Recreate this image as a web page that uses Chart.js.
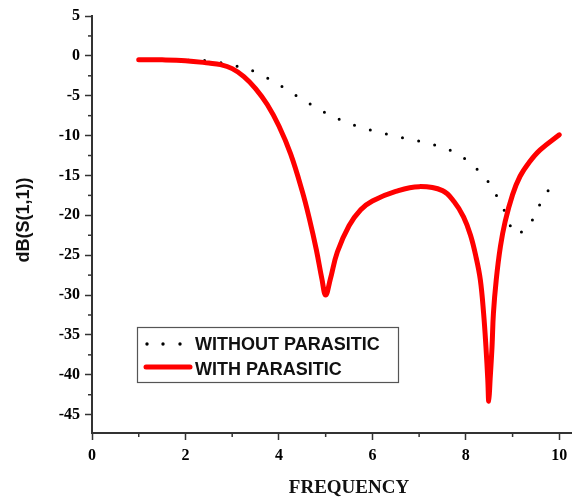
<!DOCTYPE html>
<html>
<head>
<meta charset="utf-8">
<script src="https://cdn.jsdelivr.net/npm/chart.js@4/dist/chart.umd.min.js"></script>
<style>
  body { margin: 0; background: #fff; }
  #wrap { width: 577px; height: 497px; }
</style>
</head>
<body>
<div id="wrap"><canvas id="s11Chart" width="577" height="497"></canvas></div>
<script>
// Courbe sans parasite (pointillés)
const freqWithout = [1.0, 1.5, 2.0, 2.46, 2.8, 3.17, 3.53, 3.88, 4.24, 4.6, 4.95, 5.31, 5.67, 6.02, 6.38, 6.74, 7.09, 7.45, 7.82, 8.16, 8.48, 8.69, 8.89, 9.05, 9.34, 9.53, 9.74, 9.82];
const s11Without = [-0.5, -0.5, -0.55, -0.6, -0.9, -1.4, -2.1, -3.2, -4.5, -5.8, -7.0, -8.0, -8.8, -9.4, -9.9, -10.4, -10.8, -11.4, -12.3, -13.8, -15.8, -17.9, -20.2, -22.3, -21.3, -19.2, -17.1, -16.4];

// Courbe avec parasite (rouge)
const freqWith = [1.0, 1.5, 2.0, 2.5, 2.75, 3.0, 3.25, 3.5, 3.75, 4.0, 4.25, 4.5, 4.65, 4.8, 4.92, 5.0, 5.1, 5.25, 5.5, 5.75, 6.0, 6.5, 7.0, 7.5, 7.75, 7.95, 8.1, 8.22, 8.31, 8.38, 8.43, 8.47, 8.49, 8.52, 8.56, 8.59, 8.65, 8.74, 8.84, 9.0, 9.16, 9.35, 9.59, 10.0];
const s11With = [-0.5, -0.5, -0.6, -0.9, -1.1, -1.6, -2.6, -4.1, -6.1, -8.8, -12.3, -17.0, -20.4, -24.3, -28.0, -30.0, -28.0, -24.6, -21.3, -19.3, -18.2, -17.0, -16.4, -16.9, -18.3, -20.2, -22.5, -25.3, -28.1, -32.3, -36.5, -40.7, -43.3, -40.5, -36.5, -32.3, -28.1, -23.9, -20.8, -17.4, -15.1, -13.4, -11.8, -9.9];

const xTicks = [0, 2, 4, 6, 8, 10];
const yTicks = [5, 0, -5, -10, -15, -20, -25, -30, -35, -40, -45];
const legendLabels = ['WITHOUT PARASITIC', 'WITH PARASITIC'];
const xTitle = 'FREQUENCY';
const yTitle = 'dB(S(1,1))';

const AXIS = '#333';
const tickFont = { family: '"Liberation Serif", "Times New Roman", serif', size: 16, weight: 'bold' };

function toPoints(xs, ys) {
    return xs.map((x, i) => ({ x: x, y: ys[i] }));
}

// Petites graduations, titres d'axes et légende encadrée
const decorPlugin = {
    id: 'decor',
    afterDraw(chart) {
        const ctx = chart.ctx;
        const xs = chart.scales.x;
        const ys = chart.scales.y;
        const area = chart.chartArea;
        ctx.save();
        ctx.strokeStyle = AXIS;
        ctx.lineWidth = 1.5;
        for (let v = 1; v <= 9; v += 2) {
            const px = xs.getPixelForValue(v);
            ctx.beginPath();
            ctx.moveTo(px, area.bottom);
            ctx.lineTo(px, area.bottom + 4);
            ctx.stroke();
        }
        for (let v = 2.5; v >= -42.5; v -= 5) {
            const py = ys.getPixelForValue(v);
            ctx.beginPath();
            ctx.moveTo(area.left, py);
            ctx.lineTo(area.left - 4, py);
            ctx.stroke();
        }

        // titres
        ctx.fillStyle = '#111';
        ctx.font = 'bold 19px "Liberation Serif", "Times New Roman", serif';
        ctx.textAlign = 'center';
        ctx.textBaseline = 'alphabetic';
        ctx.fillText(xTitle, 349, 493);

        ctx.save();
        ctx.translate(29, 220);
        ctx.rotate(-Math.PI / 2);
        ctx.font = 'bold 18px "Liberation Sans", Arial, sans-serif';
        ctx.fillText(yTitle, 0, 0);
        ctx.restore();

        // légende
        ctx.strokeStyle = '#555';
        ctx.lineWidth = 1.2;
        ctx.strokeRect(137.5, 327.5, 261, 55);
        ctx.fillStyle = '#000';
        [147, 163, 180].forEach(dx => {
            ctx.beginPath();
            ctx.arc(dx, 344, 1.7, 0, Math.PI * 2);
            ctx.fill();
        });
        ctx.strokeStyle = '#ff0000';
        ctx.lineWidth = 5;
        ctx.lineCap = 'round';
        ctx.beginPath();
        ctx.moveTo(146, 367);
        ctx.lineTo(190, 367);
        ctx.stroke();
        ctx.fillStyle = '#111';
        ctx.textAlign = 'left';
        ctx.font = 'bold 18px "Liberation Sans", Arial, sans-serif';
        ctx.fillText(legendLabels[0], 195, 350);
        ctx.fillText(legendLabels[1], 195, 375);
        ctx.restore();
    }
};

new Chart(document.getElementById('s11Chart'), {
    type: 'line',
    data: {
        datasets: [
            {
                label: legendLabels[0],
                data: toPoints(freqWithout, s11Without),
                borderColor: '#000',
                borderWidth: 3,
                borderDash: [0, 16.5],
                borderCapStyle: 'round',
                tension: 0.4,
                pointRadius: 0,
                order: 1,
            },
            {
                label: legendLabels[1],
                data: toPoints(freqWith, s11With),
                borderColor: '#ff0000',
                borderWidth: 5,
                borderCapStyle: 'round',
                borderJoinStyle: 'round',
                tension: 0.4,
                pointRadius: 0,
                order: 0,
            }
        ]
    },
    options: {
        responsive: false,
        animation: false,
        layout: { padding: { left: 0, top: 16, right: 6, bottom: 0 } },
        plugins: {
            legend: { display: false },
            tooltip: { enabled: false },
        },
        scales: {
            x: {
                type: 'linear',
                min: 0,
                max: 10.25,
                afterFit: (scale) => { scale.height = 64; },
                afterBuildTicks: (scale) => { scale.ticks = xTicks.map(v => ({ value: v })); },
                grid: { drawOnChartArea: false, tickLength: 7, tickColor: AXIS, tickWidth: 1.5 },
                border: { display: true, color: AXIS, width: 2 },
                ticks: { color: '#000', font: tickFont, padding: 6, maxRotation: 0 },
            },
            y: {
                type: 'linear',
                min: -47.3,
                max: 5,
                afterFit: (scale) => { scale.width = 92; },
                afterBuildTicks: (scale) => { scale.ticks = yTicks.map(v => ({ value: v })); },
                grid: { drawOnChartArea: false, tickLength: 7, tickColor: AXIS, tickWidth: 1.5 },
                border: { display: true, color: AXIS, width: 2 },
                ticks: { color: '#000', font: tickFont, padding: 5 },
            }
        }
    },
    plugins: [decorPlugin]
});
</script>
</body>
</html>
